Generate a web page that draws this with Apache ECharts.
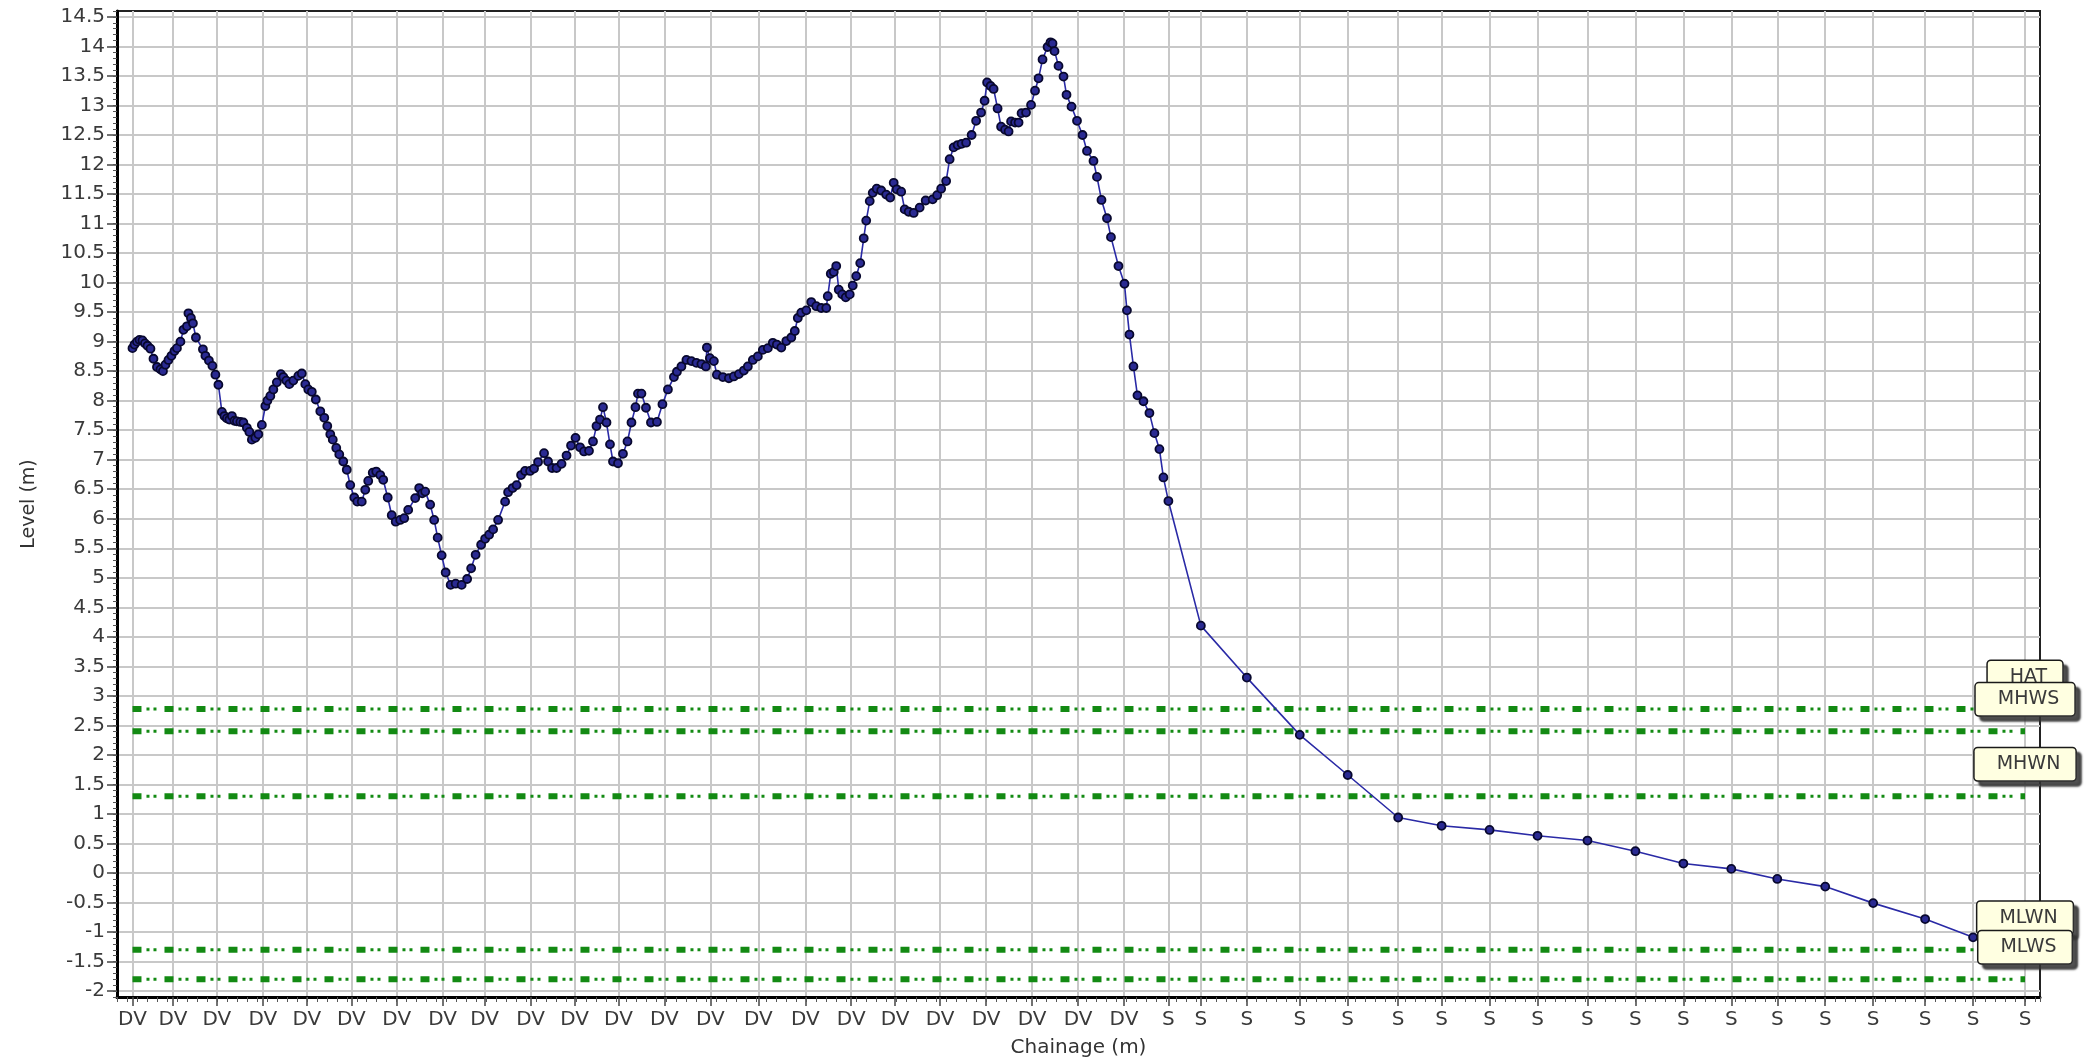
<!DOCTYPE html>
<html>
<head>
<meta charset="utf-8">
<script src="https://cdn.jsdelivr.net/npm/echarts@6/dist/echarts.min.js"></script>
<style>
html,body{margin:0;padding:0;background:#fff;}
#chart{width:2092px;height:1061px;}
</style>
</head>
<body>
<div id="chart"></div>
<script>
// ---- data (chainage in m, level in m) ----
const profile = [
[3.1,8.89],[3.5,8.95],[4.0,9.0],[4.5,9.03],[5.1,9.02],[5.6,8.97],[6.1,8.93],[6.7,8.88],[7.3,8.71],[8.0,8.57],[8.7,8.53],[9.2,8.5],[9.7,8.61],[10.3,8.69],[10.9,8.76],[11.5,8.84],[12.0,8.89],[12.7,9.0],[13.3,9.2],[14.0,9.26],[14.3,9.48],[14.8,9.4],[15.2,9.31],[15.8,9.07],[17.2,8.87],[17.7,8.76],[18.4,8.68],[19.1,8.59],[19.7,8.44],[20.3,8.27],[21.0,7.81],[21.5,7.74],[22.0,7.7],[22.5,7.68],[23.0,7.74],[23.5,7.66],[24.0,7.65],[24.7,7.64],[25.3,7.63],[26.0,7.54],[26.5,7.47],[27.0,7.34],[27.7,7.37],[28.3,7.43],[29.0,7.59],[29.7,7.91],[30.1,8.0],[30.7,8.08],[31.3,8.19],[32.0,8.31],[32.8,8.45],[33.3,8.4],[33.9,8.34],[34.5,8.28],[35.3,8.34],[36.3,8.42],[37.0,8.46],[37.7,8.28],[38.3,8.19],[39.0,8.15],[39.8,8.02],[40.7,7.82],[41.5,7.71],[42.1,7.57],[42.7,7.43],[43.2,7.34],[43.9,7.2],[44.5,7.09],[45.3,6.97],[46.0,6.83],[46.7,6.57],[47.5,6.36],[48.1,6.29],[49.0,6.29],[49.7,6.49],[50.3,6.64],[51.2,6.78],[51.9,6.8],[52.7,6.74],
[53.3,6.66],[54.2,6.36],[55.0,6.06],[55.8,5.95],[56.7,5.98],[57.5,6.01],[58.3,6.15],[59.7,6.35],[60.5,6.52],[61.1,6.43],[61.7,6.46],[62.7,6.24],[63.5,5.98],[64.2,5.68],[65.0,5.38],[65.8,5.09],[66.8,4.88],[67.8,4.9],[69.0,4.88],[70.1,4.98],[70.9,5.16],[71.8,5.39],[72.9,5.56],[73.7,5.66],[74.5,5.73],[75.3,5.82],[76.3,5.98],[77.7,6.29],[78.3,6.45],[79.2,6.52],[80.0,6.57],[80.9,6.74],[81.7,6.81],[82.7,6.81],[83.5,6.85],[84.3,6.96],[85.5,7.11],[86.3,6.97],[87.1,6.86],[88.0,6.86],[89.0,6.93],[90.0,7.07],[90.9,7.24],[91.8,7.37],[92.7,7.21],[93.5,7.14],[94.5,7.15],[95.3,7.31],[96.0,7.57],[96.7,7.68],[97.3,7.89],[98.0,7.63],[98.7,7.26],[99.3,6.97],[100.3,6.94],[101.3,7.1],[102.2,7.31],[103.0,7.63],[103.8,7.89],[104.3,8.12],[105.0,8.12],[105.9,7.88],[106.9,7.63],
[108.1,7.64],[109.2,7.94],[110.3,8.19],[111.5,8.4],[112.1,8.49],[113.0,8.58],[114.0,8.69],[115.0,8.67],[116.0,8.64],[117.0,8.62],[117.9,8.58],[118.1,8.9],[118.7,8.72],[119.5,8.67],[120.1,8.44],[121.3,8.4],[122.5,8.38],[123.5,8.41],[124.5,8.45],[125.5,8.51],[126.3,8.58],[127.3,8.69],[128.3,8.75],[129.3,8.86],[130.3,8.89],[131.3,8.98],[132.1,8.95],[133.0,8.9],[134.0,9.01],[135.0,9.07],[135.7,9.18],[136.3,9.4],[137.0,9.49],[138.0,9.53],[139.0,9.67],[140.0,9.6],[141.0,9.57],[142.0,9.57],[142.3,9.77],[142.9,10.15],[143.5,10.18],[144.0,10.28],[144.5,9.88],[145.2,9.8],[145.9,9.75],[146.7,9.8],[147.3,9.95],[148.0,10.11],[148.8,10.33],[149.5,10.75],[150.0,11.05],[150.7,11.38],[151.3,11.52],[152.1,11.59],[153.0,11.56],[154.0,11.49],[154.8,11.44],[155.5,11.69],[156.1,11.58],[157.0,11.54],[157.7,11.24],[158.5,11.2],[159.5,11.18],[160.7,11.27],[161.9,11.39],
[163.3,11.41],[164.2,11.48],[165.0,11.59],[166.0,11.72],[166.7,12.09],[167.5,12.29],[168.3,12.33],[169.1,12.35],[170.0,12.37],[171.1,12.5],[172.0,12.74],[173.0,12.88],[173.7,13.08],[174.2,13.39],[174.9,13.33],[175.5,13.28],[176.3,12.95],[177.0,12.64],[177.8,12.59],[178.5,12.56],[179.0,12.73],[179.8,12.71],[180.5,12.71],[181.1,12.87],[182.0,12.88],[183.0,13.01],[183.8,13.25],[184.5,13.46],[185.3,13.78],[186.3,13.99],[186.9,14.07],[187.3,14.05],[187.7,13.92],[188.5,13.67],[189.5,13.49],[190.1,13.18],[191.1,12.98],[192.2,12.74],[193.3,12.5],[194.2,12.23],[195.5,12.06],[196.2,11.79],[197.1,11.4],[198.2,11.09],[199.0,10.77],[200.5,10.28],[201.7,9.98],[202.2,9.53],[202.7,9.12],[203.5,8.58],[204.3,8.09],[205.5,7.99],[206.7,7.79],[207.7,7.45],[208.7,7.18],[209.5,6.7],[210.5,6.3],
[217.0,4.19],[226.2,3.31],[236.8,2.34],[246.4,1.66],[256.5,0.94],[265.2,0.8],[274.8,0.73],[284.4,0.63],[294.4,0.55],[304.0,0.37],[313.6,0.16],[323.2,0.07],[332.4,-0.1],[342.0,-0.23],[351.6,-0.51],[362.0,-0.78],[371.6,-1.09]
];

const tickChainage = [3.1,11.2,20.0,29.2,38.0,46.9,56.0,65.2,73.6,82.8,91.6,100.4,109.6,118.8,128.4,137.8,147.0,155.8,164.8,174.0,183.2,192.4,201.6,
  210.5,217.0,226.2,236.8,246.4,256.5,265.2,274.8,284.4,294.4,304.0,313.6,323.2,332.4,342.0,351.6,362.0,371.6,382.0];
const tickCode = ['DV','DV','DV','DV','DV','DV','DV','DV','DV','DV','DV','DV','DV','DV','DV','DV','DV','DV','DV','DV','DV','DV','DV',
  'S','S','S','S','S','S','S','S','S','S','S','S','S','S','S','S','S','S','S'];

const levelTicks = [-2,-1.5,-1,-0.5,0,0.5,1,1.5,2,2.5,3,3.5,4,4.5,5,5.5,6,6.5,7,7.5,8,8.5,9,9.5,10,10.5,11,11.5,12,12.5,13,13.5,14,14.5];

const tideNames = ['HAT','MHWS','MHWN','MLWN','MLWS'];
const tideLevels = [2.78, 2.4, 1.3, -1.3, -1.8];
const tideFrom = 3.1, tideTo = 382.0;

// ---- chart ----
const FONT = 'DejaVu Sans';
const GREEN = '#138a13';
const chart = echarts.init(document.getElementById('chart'));

const series = [];
tideNames.forEach(function (name, i) {
  const lv = tideLevels[i];
  const d = [[tideFrom, lv], [tideTo, lv]];
  series.push({
    type: 'line', name: name, data: d, symbol: 'none', silent: true, z: 2,
    lineStyle: { color: GREEN, width: 6, type: [9, 23] },
    markPoint: {
      symbol: 'circle', symbolSize: 1, silent: true,
      itemStyle: { color: 'rgba(0,0,0,0)' },
      data: [{ coord: [tideTo, lv], value: name }],
      label: {
        show: true, position: 'inside', offset: [0, -32], formatter: name,
        fontFamily: FONT, fontSize: 19, color: '#3a3a3a',
        backgroundColor: '#ffffe1', borderColor: '#1a1a1a', borderWidth: 1.5, borderRadius: 3,
        padding: [7, 15, 6, 22],
        shadowColor: 'rgba(50,50,50,0.85)', shadowBlur: 2, shadowOffsetX: 5, shadowOffsetY: 5
      }
    }
  });
  series.push({
    type: 'line', data: d, symbol: 'none', silent: true, z: 2,
    lineStyle: { color: GREEN, width: 3, type: [0, 14, 3, 4, 3, 8] }
  });
});

series.push({
  type: 'line', name: 'Profile', data: profile, z: 4,
  symbol: 'circle', symbolSize: 8,
  itemStyle: { color: '#2a2a92', borderColor: '#08082e', borderWidth: 1.8 },
  lineStyle: { color: '#2a2aa6', width: 1.6 }
});

function codeFor(v) {
  const i = tickChainage.findIndex(function (t) { return Math.abs(t - v) < 1e-6; });
  return i >= 0 ? tickCode[i] : '';
}

const option = {
  animation: false,
  backgroundColor: '#ffffff',
  grid: {
    left: 117, right: 52, top: 11, bottom: 64,
    show: true, borderColor: '#222', borderWidth: 2, backgroundColor: '#ffffff',
    containLabel: false, outerBoundsMode: 'none'
  },
  xAxis: [
    {
      type: 'value', min: 0, max: 385, position: 'bottom',
      name: 'Chainage (m)', nameLocation: 'middle', nameGap: 41,
      nameTextStyle: { fontFamily: FONT, fontSize: 20, color: '#333' },
      axisLine: { show: true, onZero: false, lineStyle: { color: '#000', width: 3 } },
      axisTick: { show: true, customValues: tickChainage, length: 9, lineStyle: { color: '#444', width: 1.5 } },
      axisLabel: { customValues: tickChainage, formatter: codeFor, fontFamily: FONT, fontSize: 20, color: '#3a3a3a', margin: 13 },
      splitLine: { show: true, lineStyle: { color: '#c8c8c8', width: 2 } }
    },
    {
      type: 'value', min: 0, max: 385, interval: 2, position: 'bottom',
      axisLine: { show: false, onZero: false },
      axisTick: { show: true, length: 5, lineStyle: { color: '#555', width: 1 } },
      axisLabel: { show: false }, splitLine: { show: false }
    }
  ],
  yAxis: [
    {
      type: 'value', min: -2.1, max: 14.6, position: 'left',
      name: 'Level (m)', nameLocation: 'middle', nameGap: 78, nameRotate: 90,
      nameTextStyle: { fontFamily: FONT, fontSize: 19, color: '#333' },
      axisLine: { show: true, onZero: false, lineStyle: { color: '#000', width: 3 } },
      axisTick: { show: true, customValues: levelTicks, length: 10, lineStyle: { color: '#444', width: 1.5 } },
      axisLabel: { customValues: levelTicks, fontFamily: FONT, fontSize: 20, color: '#3a3a3a', margin: 12 },
      splitLine: { show: true, lineStyle: { color: '#c8c8c8', width: 2 } }
    },
    {
      type: 'value', min: -2.1, max: 14.6, interval: 0.1, position: 'left',
      axisLine: { show: false, onZero: false },
      axisTick: { show: true, length: 4, lineStyle: { color: '#555', width: 1 } },
      axisLabel: { show: false }, splitLine: { show: false }
    }
  ],
  series: series
};
chart.setOption(option);
</script>
</body>
</html>
